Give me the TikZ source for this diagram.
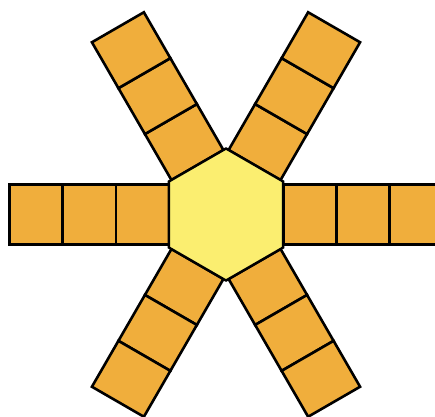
\documentclass[tikz,border=0pt]{standalone}
\usetikzlibrary{shapes.geometric}
\definecolor{armorange}{RGB}{240,174,60}
\definecolor{hexyellow}{RGB}{251,238,112}
\begin{document}
\begin{tikzpicture}[x=1pt, y=1pt,
cell/.style={draw, line width=2.6pt, fill=armorange, rectangle, minimum width=53pt, minimum height=60pt, inner sep=0pt},
hexcore/.style={draw, line width=2.4pt, fill=hexyellow, regular polygon, regular polygon sides=6, shape border rotate=90, minimum size=132pt, inner sep=0pt}
]
\useasboundingbox (-226,-201.5) rectangle (209,214.5);
% arms, one per side
\foreach \a in {0,60,...,300} {
  \foreach \k in {0,1,2} {
    \node[cell, rotate=\a] (c-\a-\k) at ({\a}:{83.7+53*\k}) {};
  }
}
% centre hexagon
\node[hexcore] (hex) at (0,0) {};
\end{tikzpicture}
\end{document}
